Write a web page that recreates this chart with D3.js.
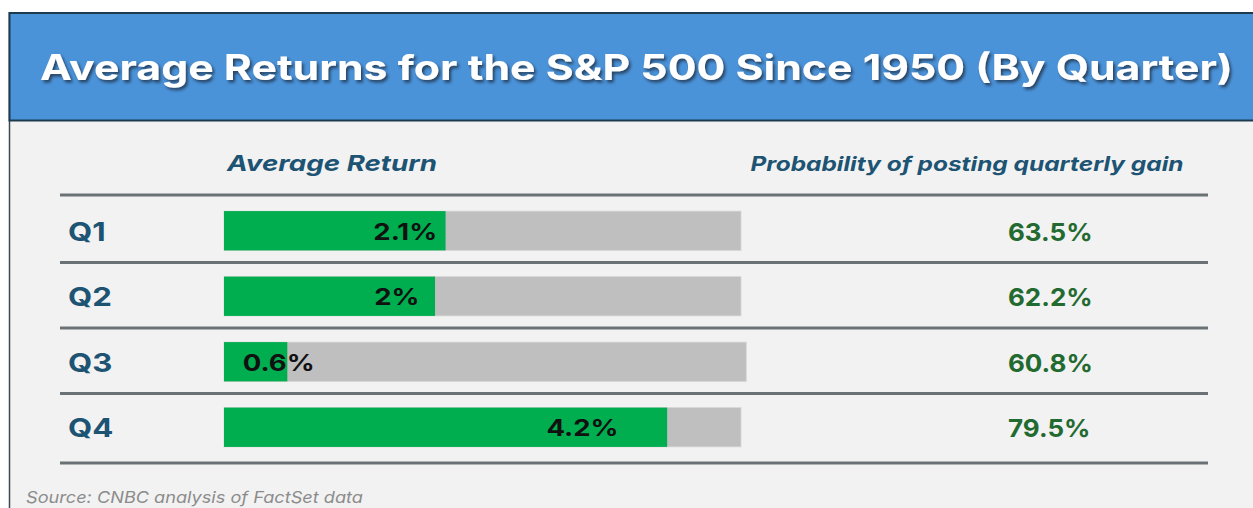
<!DOCTYPE html>
<html>
<head>
<meta charset="utf-8">
<script src="https://cdn.jsdelivr.net/npm/d3@7"></script>
<style>
  html, body { margin: 0; padding: 0; background: #ffffff; }
  svg { display: block; }
</style>
</head>
<body>
<svg id="chart" width="1253" height="508"></svg>
<script>
// ---- Data ----
const title = "Average Returns for the S&P 500 Since 1950 (By Quarter)";
const headerReturn = "Average Return";
const headerProb = "Probability of posting quarterly gain";
const source = "Source: CNBC analysis of FactSet data";
const quarters = ["Q1", "Q2", "Q3", "Q4"];
const avgReturn = [2.1, 2.0, 0.6, 4.2];
const returnLabels = ["2.1%", "2%", "0.6%", "4.2%"];
const maxReturn = [4.9, 4.9, 4.95, 4.9];
const probGain = [63.5, 62.2, 60.8, 79.5];

// ---- Drawing ----
const W = 1253, H = 508;
const svg = d3.select("#chart");
const FONT = "Inter, 'Liberation Sans', Arial, sans-serif";
const WIDEN = 1.17; // reference typeface is wider than Inter

function widen(sel, factor) {
  sel.each(function() {
    const w = this.getComputedTextLength();
    d3.select(this).attr("textLength", w * factor).attr("lengthAdjust", "spacingAndGlyphs");
  });
}

const defs = svg.append("defs");
const f = defs.append("filter").attr("id", "shadow")
  .attr("x", "-5%").attr("y", "-30%").attr("width", "110%").attr("height", "160%");
f.append("feDropShadow").attr("dx", 2).attr("dy", 2.5).attr("stdDeviation", 1.6)
  .attr("flood-color", "#1a2a3a").attr("flood-opacity", 0.75);

// body background
svg.append("rect").attr("x", 10).attr("y", 121).attr("width", W - 10).attr("height", H - 121)
  .attr("fill", "#f2f2f2");
// left border
svg.append("line").attr("x1", 9.5).attr("x2", 9.5).attr("y1", 12).attr("y2", H)
  .attr("stroke", "#3c4a55").attr("stroke-width", 1.5);

// title box
svg.append("rect").attr("x", 9.5).attr("y", 13).attr("width", W).attr("height", 107.5)
  .attr("fill", "#4b93d9").attr("stroke", "#1d3a4f").attr("stroke-width", 2);

svg.append("text")
  .attr("x", 636.5).attr("y", 80)
  .attr("text-anchor", "middle")
  .attr("font-family", FONT).attr("font-weight", 700).attr("font-size", 35)
  .attr("fill", "#ffffff")
  .attr("textLength", 1193).attr("lengthAdjust", "spacingAndGlyphs")
  .attr("filter", "url(#shadow)")
  .text(title);

// scales
const y = d3.scaleBand().domain(quarters).range([198, 460]).paddingInner(0.4).paddingOuter(0.2);
const x = d3.scaleLinear().domain([0, 4.9]).range([224, 741]);

const headColor = "#1d5373";

// headers
svg.append("text").attr("x", 332).attr("y", 171).attr("text-anchor", "middle")
  .attr("font-family", FONT).attr("font-weight", 700).attr("font-style", "italic")
  .attr("font-size", 22).attr("fill", headColor)
  .attr("textLength", 210).attr("lengthAdjust", "spacingAndGlyphs")
  .text(headerReturn);
svg.append("text").attr("x", 967).attr("y", 171).attr("text-anchor", "middle")
  .attr("font-family", FONT).attr("font-weight", 700).attr("font-style", "italic")
  .attr("font-size", 20).attr("fill", headColor)
  .attr("textLength", 433).attr("lengthAdjust", "spacingAndGlyphs")
  .text(headerProb);

// separator lines
const lineYs = [y(quarters[0]) - 16].concat(quarters.map((q, i) => y(q) + y.bandwidth() + (i === quarters.length - 1 ? 16 : 12)));
svg.selectAll("line.sep").data(lineYs).join("line").attr("class", "sep")
  .attr("x1", 60).attr("x2", 1208).attr("y1", d => d).attr("y2", d => d)
  .attr("stroke", "#6b7275").attr("stroke-width", 3);

const rows = quarters.map((q, i) => ({ q, v: avgReturn[i], lab: returnLabels[i], max: maxReturn[i], p: probGain[i] }));

// gray background bars
svg.selectAll("rect.bg").data(rows).join("rect").attr("class", "bg")
  .attr("x", x(0)).attr("y", d => y(d.q))
  .attr("width", d => x(d.max) - x(0)).attr("height", y.bandwidth())
  .attr("fill", "#bfbfbf").attr("stroke", "#d6d6d6").attr("stroke-width", 0.8);

// green bars
svg.selectAll("rect.val").data(rows).join("rect").attr("class", "val")
  .attr("x", x(0)).attr("y", d => y(d.q))
  .attr("width", d => x(d.v) - x(0)).attr("height", y.bandwidth())
  .attr("fill", "#00ae4f");

// bar labels (centred at ~80% of the bar length)
svg.selectAll("text.blab").data(rows).join("text").attr("class", "blab")
  .attr("font-family", FONT).attr("font-weight", 700).attr("font-size", 23.5)
  .attr("fill", "#111111").attr("text-anchor", "middle")
  .attr("x", d => x(0) + 0.8 * (x(d.v) - x(0)) + 4)
  .attr("y", d => y(d.q) + y.bandwidth() / 2 + 9)
  .text(d => d.lab)
  .call(widen, WIDEN);

// quarter labels
svg.selectAll("text.qlab").data(rows).join("text").attr("class", "qlab")
  .attr("x", 68).attr("y", d => y(d.q) + y.bandwidth() / 2 + 10)
  .attr("font-family", FONT).attr("font-weight", 700).attr("font-size", 26)
  .attr("fill", headColor)
  .text(d => d.q)
  .call(widen, 1.2);

// probability labels
svg.selectAll("text.plab").data(rows).join("text").attr("class", "plab")
  .attr("x", 1008).attr("y", d => y(d.q) + y.bandwidth() / 2 + 10)
  .attr("font-family", FONT).attr("font-weight", 700).attr("font-size", 24.5)
  .attr("fill", "#236a30")
  .text(d => d3.format(".1f")(d.p) + "%")
  .call(widen, 1.06);

// source
svg.append("text").attr("x", 26).attr("y", 503)
  .attr("font-family", FONT).attr("font-style", "italic").attr("font-size", 16.5)
  .attr("fill", "#8c8c8c")
  .attr("textLength", 337).attr("lengthAdjust", "spacingAndGlyphs")
  .text(source);
</script>
</body>
</html>
